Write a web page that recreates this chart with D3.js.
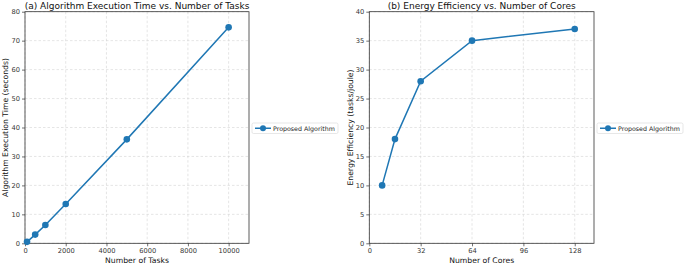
<!DOCTYPE html>
<html>
<head>
<meta charset="utf-8">
<script src="https://cdn.jsdelivr.net/npm/d3@7"></script>
<style>
  body { margin: 0; background: #fff; }
  svg { font-family: "DejaVu Sans", sans-serif; }
  .grid line { stroke: #d4d4d4; stroke-dasharray: 2.5,2; stroke-width: 0.6; }
</style>
</head>
<body>
<svg id="fig" width="685" height="264"></svg>
<script>
// panel (a)
const taskCounts = [100, 500, 1000, 2000, 5000, 10000]
const execTimes = [0.5, 3.0, 6.3, 13.6, 35.9, 74.6]
const taskTicks = [0, 2000, 4000, 6000, 8000, 10000]
const timeTicks = [0, 10, 20, 30, 40, 50, 60, 70, 80]

// panel (b)
const coreCounts = [8, 16, 32, 64, 128]
const efficiency = [10, 18, 28, 35, 37]
const coreTicks = [0, 32, 64, 96, 128]
const effTicks = [0, 5, 10, 15, 20, 25, 30, 35, 40]

const seriesName = "Proposed Algorithm"
const blue = "#1f77b4"

const svg = d3.select("#fig")

function drawPanel(opt) {
    const g = svg.append("g")
    const x = d3.scaleLinear().domain(opt.xDomain).range([opt.left, opt.right])
    const y = d3.scaleLinear().domain(opt.yDomain).range([opt.bottom, opt.top])

    // grid
    const grid = g.append("g").attr("class", "grid")
    grid.selectAll(".gx").data(opt.xTicks).join("line")
        .attr("x1", d => x(d)).attr("x2", d => x(d))
        .attr("y1", opt.top).attr("y2", opt.bottom)
    grid.selectAll(".gy").data(opt.yTicks).join("line")
        .attr("y1", d => y(d)).attr("y2", d => y(d))
        .attr("x1", opt.left).attr("x2", opt.right)

    // axes
    g.append("g")
        .attr("transform", "translate(0," + opt.bottom + ")")
        .call(d3.axisBottom(x).tickValues(opt.xTicks).tickSize(3).tickPadding(2).tickFormat(d3.format("d")))
        .call(a => a.select(".domain").remove())
    g.append("g")
        .attr("transform", "translate(" + opt.left + ",0)")
        .call(d3.axisLeft(y).tickValues(opt.yTicks).tickSize(3).tickPadding(2).tickFormat(d3.format("d")))
        .call(a => a.select(".domain").remove())
    g.selectAll(".tick line").attr("stroke", "#333").attr("stroke-width", 0.7)
    g.selectAll(".tick text").attr("fill", "#333").attr("font-size", "6.7px")
        .attr("font-family", "DejaVu Sans, sans-serif")

    g.append("rect")
        .attr("x", opt.left).attr("y", opt.top)
        .attr("width", opt.right - opt.left).attr("height", opt.bottom - opt.top)
        .attr("fill", "none").attr("stroke", "#333").attr("stroke-width", 0.8)

    // line + markers
    const line = d3.line().x(d => x(d[0])).y(d => y(d[1]))
    const pts = opt.xs.map((v, i) => [v, opt.ys[i]])
    g.append("path").datum(pts)
        .attr("d", line).attr("fill", "none")
        .attr("stroke", blue).attr("stroke-width", 1.5)
    g.selectAll(".pt").data(pts).join("circle")
        .attr("cx", d => x(d[0])).attr("cy", d => y(d[1]))
        .attr("r", 3.3).attr("fill", blue)

    // title + labels
    g.append("text")
        .attr("x", (opt.left + opt.right) / 2).attr("y", 8.5)
        .attr("text-anchor", "middle").attr("font-size", "9px").attr("fill", "#111")
        .text(opt.title)
    g.append("text")
        .attr("x", (opt.left + opt.right) / 2).attr("y", 262.5)
        .attr("text-anchor", "middle").attr("font-size", "7.7px").attr("fill", "#111")
        .text(opt.xLabel)
    g.append("text")
        .attr("transform", "translate(" + opt.yLabelX + "," + ((opt.top + opt.bottom) / 2) + ") rotate(-90)")
        .attr("text-anchor", "middle").attr("font-size", "7.7px").attr("fill", "#111")
        .text(opt.yLabel)

    // legend
    const lg = g.append("g").attr("transform", "translate(" + opt.legendX + ",123)")
    lg.append("rect").attr("width", 86).attr("height", 10.5).attr("rx", 1.5)
        .attr("fill", "#fff").attr("stroke", "#ddd").attr("stroke-width", 0.7)
    lg.append("line").attr("x1", 3).attr("x2", 19).attr("y1", 5.25).attr("y2", 5.25)
        .attr("stroke", blue).attr("stroke-width", 1.5)
    lg.append("circle").attr("cx", 11).attr("cy", 5.25).attr("r", 3).attr("fill", blue)
    lg.append("text").attr("x", 21).attr("y", 7.6).attr("font-size", "6.3px").attr("fill", "#222")
        .text(seriesName)
}

drawPanel({
    left: 25, right: 249, top: 11.7, bottom: 243.3,
    xDomain: [0, 11000], yDomain: [0, 80],
    xTicks: taskTicks, yTicks: timeTicks,
    xs: taskCounts, ys: execTimes,
    title: "(a) Algorithm Execution Time vs. Number of Tasks",
    xLabel: "Number of Tasks",
    yLabel: "Algorithm Execution Time (seconds)",
    yLabelX: 8, legendX: 252
})

drawPanel({
    left: 369.3, right: 594, top: 11.7, bottom: 243.3,
    xDomain: [0, 140], yDomain: [0, 40],
    xTicks: coreTicks, yTicks: effTicks,
    xs: coreCounts, ys: efficiency,
    title: "(b) Energy Efficiency vs. Number of Cores",
    xLabel: "Number of Cores",
    yLabel: "Energy Efficiency (tasks/joule)",
    yLabelX: 352.5, legendX: 597
})
</script>
</body>
</html>
